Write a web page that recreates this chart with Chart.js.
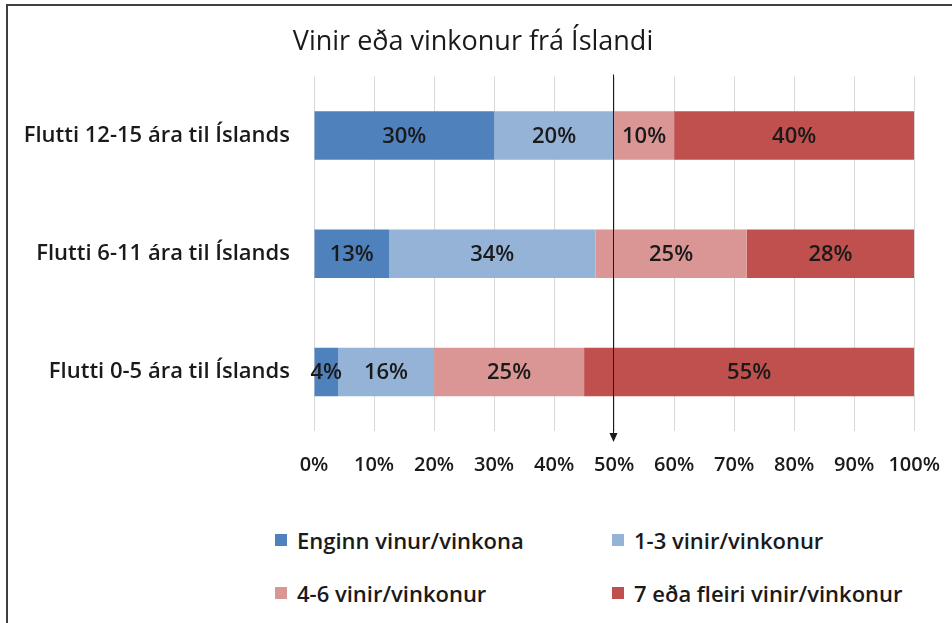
<!DOCTYPE html>
<html>
<head>
<meta charset="utf-8">
<script src="https://cdn.jsdelivr.net/npm/chart.js@4.4.0/dist/chart.umd.min.js"></script>
<style>
    body { margin: 0; background: #fff; font-family: "Open Sans", sans-serif; overflow: hidden; }
    .frame { position: absolute; left: 6px; top: 4px; width: 946px; height: 619px;
             border-top: 2px solid #404040; border-left: 2px solid #404040; }
    .chart-box { position: absolute; left: 0; top: 0; width: 962px; height: 505px; }
    .legend { position: absolute; left: 275px; top: 527px; display: grid;
              grid-template-columns: 337px auto; row-gap: 27px; }
    .legend-item { display: flex; align-items: center; height: 26px;
                   font-size: 22px; font-weight: 600; color: #1a1a1a; }
    .legend-item span.box { width: 12px; height: 12px; margin-right: 10px; }
</style>
</head>
<body>
<div class="frame"></div>
<div class="chart-box"><canvas class="friends-chart"></canvas></div>
<div class="legend"></div>
<script>
const title = 'Vinir eða vinkonur frá Íslandi';
const categories = ['Flutti 12-15 ára til Íslands', 'Flutti 6-11 ára til Íslands', 'Flutti 0-5 ára til Íslands'];
const seriesNames = ['Enginn vinur/vinkona', '1-3 vinir/vinkonur', '4-6 vinir/vinkonur', '7 eða fleiri vinir/vinkonur'];
const seriesColors = ['#4f81bd', '#95b3d7', '#da9694', '#c0504d'];
const noFriends = [30, 12.5, 4];
const oneToThree = [20, 34.4, 16];
const fourToSix = [10, 25.2, 25];
const sevenPlus = [40, 27.9, 55];
const xTicks = [0, 10, 20, 30, 40, 50, 60, 70, 80, 90, 100];

const seriesValues = [noFriends, oneToThree, fourToSix, sevenPlus];

// percent labels in the middle of each bar piece
const barLabels = {
    id: 'barLabels',
    afterDatasetsDraw(chart) {
        const ctx = chart.ctx;
        ctx.save();
        ctx.font = '600 22px "Open Sans"';
        ctx.fillStyle = '#1a1a1a';
        ctx.textAlign = 'center';
        ctx.textBaseline = 'middle';
        chart.data.datasets.forEach((ds, i) => {
            chart.getDatasetMeta(i).data.forEach((bar, j) => {
                const p = bar.getCenterPoint();
                ctx.fillText(Math.round(ds.data[j]) + '%', p.x, p.y + 1);
            });
        });
        ctx.restore();
    }
};

// arrow pointing down at 50%
const midArrow = {
    id: 'midArrow',
    afterDatasetsDraw(chart) {
        const { ctx, chartArea, scales } = chart;
        const x = Math.round(scales.x.getPixelForValue(50)) - 0.5;
        const top = chartArea.top - 2;
        const bottom = chartArea.bottom + 11;
        ctx.save();
        ctx.strokeStyle = '#1a1a1a';
        ctx.fillStyle = '#1a1a1a';
        ctx.lineWidth = 1;
        ctx.beginPath();
        ctx.moveTo(x, top);
        ctx.lineTo(x, bottom - 8);
        ctx.stroke();
        ctx.beginPath();
        ctx.moveTo(x - 4, bottom - 9);
        ctx.lineTo(x + 4, bottom - 9);
        ctx.lineTo(x, bottom);
        ctx.closePath();
        ctx.fill();
        ctx.restore();
    }
};

const chart = new Chart(document.querySelector('.friends-chart'), {
    type: 'bar',
    data: {
        labels: categories,
        datasets: seriesNames.map((name, i) => ({
            label: name,
            data: seriesValues[i],
            backgroundColor: seriesColors[i],
            borderWidth: 0,
            barPercentage: 0.41,
            categoryPercentage: 1
        }))
    },
    options: {
        indexAxis: 'y',
        responsive: true,
        maintainAspectRatio: false,
        animation: false,
        layout: {
            padding: { left: 14, right: 30, top: 0, bottom: 6 }
        },
        scales: {
            x: {
                stacked: true,
                min: 0,
                max: 100,
                afterBuildTicks(scale) {
                    scale.ticks = xTicks.map(v => ({ value: v }));
                },
                ticks: {
                    padding: 22,
                    color: '#1a1a1a',
                    font: { family: 'Open Sans', size: 20, weight: '600' },
                    callback: v => v + '%'
                },
                grid: {
                    color: '#d9d9d9',
                    drawTicks: false
                },
                border: {
                    display: false
                }
            },
            y: {
                stacked: true,
                afterFit(scale) {
                    scale.width = 300;
                },
                ticks: {
                    padding: 24,
                    color: '#1a1a1a',
                    font: { family: 'Open Sans', size: 22, weight: '600' }
                },
                grid: {
                    display: false,
                    drawTicks: false
                },
                border: {
                    display: false
                }
            }
        },
        plugins: {
            legend: {
                display: false
            },
            tooltip: {
                enabled: false
            },
            title: {
                display: true,
                text: title,
                color: '#1a1a1a',
                font: { family: 'Open Sans', size: 27, weight: 'normal' },
                padding: { top: 26, bottom: 18 }
            }
        }
    },
    plugins: [midArrow, barLabels]
});

// legend in two columns, like the original
const legend = document.querySelector('.legend');
seriesNames.forEach((name, i) => {
    const item = document.createElement('div');
    item.className = 'legend-item';
    const box = document.createElement('span');
    box.className = 'box';
    box.style.background = seriesColors[i];
    item.appendChild(box);
    item.appendChild(document.createTextNode(name));
    legend.appendChild(item);
});
</script>
</body>
</html>
